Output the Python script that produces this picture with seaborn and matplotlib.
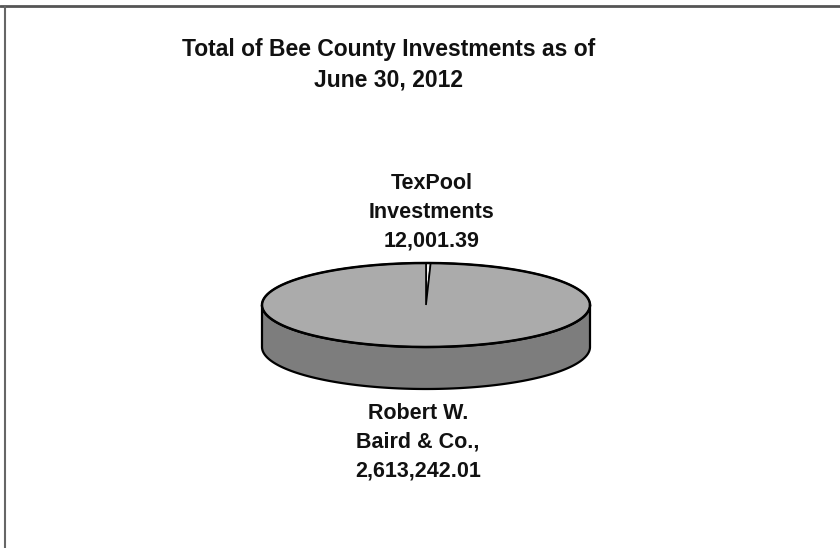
import numpy as np
import seaborn as sns
import matplotlib.pyplot as plt
from matplotlib.patches import Polygon

# data
names = ["TexPool\nInvestments", "Robert W.\nBaird & Co.,"]
amounts = [12001.39, 2613242.01]
amount_labels = ["12,001.39", "2,613,242.01"]
top_colors = ["#efefef", "#ababab"]
side_colors = ["#d0d0d0", "#7d7d7d"]

sns.set_theme(style="white")
plt.rcParams['font.family'] = ['Liberation Sans', 'DejaVu Sans']

fig = plt.figure(figsize=(8.4, 5.48), dpi=100)
ax = fig.add_axes([0, 0, 1, 1])
ax.set_xlim(0, 840)
ax.set_ylim(548, 0)
ax.axis('off')

# pie geometry (screen pixels)
cx, cy = 426, 305
rx, ry = 164, 42
depth = 42


def ell(theta_deg, dy=0):
    t = np.radians(theta_deg)
    return np.column_stack([cx + rx * np.cos(t), cy - ry * np.sin(t) + dy])


# slices go clockwise from 12 o'clock
fracs = np.array(amounts) / np.sum(amounts)
starts = 90 - 360 * np.concatenate([[0], np.cumsum(fracs)[:-1]])
ends = starts - 360 * fracs

# side walls: only the front half (angles 180..360) shows
for s, e, col in zip(starts, ends, side_colors):
    lo, hi = e % 360, s % 360
    if hi <= lo:
        hi += 360
    pieces = []
    for off in (0, 360):
        a0, a1 = max(lo, 180 + off), min(hi, 360 + off)
        if a1 > a0:
            pieces.append((a0, a1))
    for a0, a1 in pieces:
        th = np.linspace(a0, a1, 200)
        pts = np.vstack([ell(th), ell(th[::-1], depth)])
        ax.add_patch(Polygon(pts, closed=True, fc=col, ec='black', lw=1.6, zorder=2))

# top face
for s, e, col in zip(starts, ends, top_colors):
    th = np.linspace(s, e, max(int(abs(s - e)) * 2, 4))
    pts = np.vstack([[cx, cy], ell(th)])
    ax.add_patch(Polygon(pts, closed=True, fc=col, ec='black', lw=1.2, zorder=3))
top = ell(np.linspace(0, 360, 400))
ax.plot(top[:, 0], top[:, 1], color='black', lw=1.8, zorder=4)

# labels
ax.text(432, 212, names[0] + "\n" + amount_labels[0], ha='center', va='center',
        fontsize=15.5, fontweight='bold', linespacing=1.47, color='#111111')
ax.text(418, 442, names[1] + "\n" + amount_labels[1], ha='center', va='center',
        fontsize=15.5, fontweight='bold', linespacing=1.47, color='#111111')

# title
ax.text(389, 65, "Total of Bee County Investments as of\nJune 30, 2012", ha='center',
        va='center', fontsize=16.5, fontweight='bold', linespacing=1.4, color='#111111')

# chart frame
ax.plot([0, 840], [6, 6], color='#555555', lw=2)
ax.plot([5, 5], [6, 548], color='#666666', lw=1.5)

fig.savefig("out.png", dpi=100)
